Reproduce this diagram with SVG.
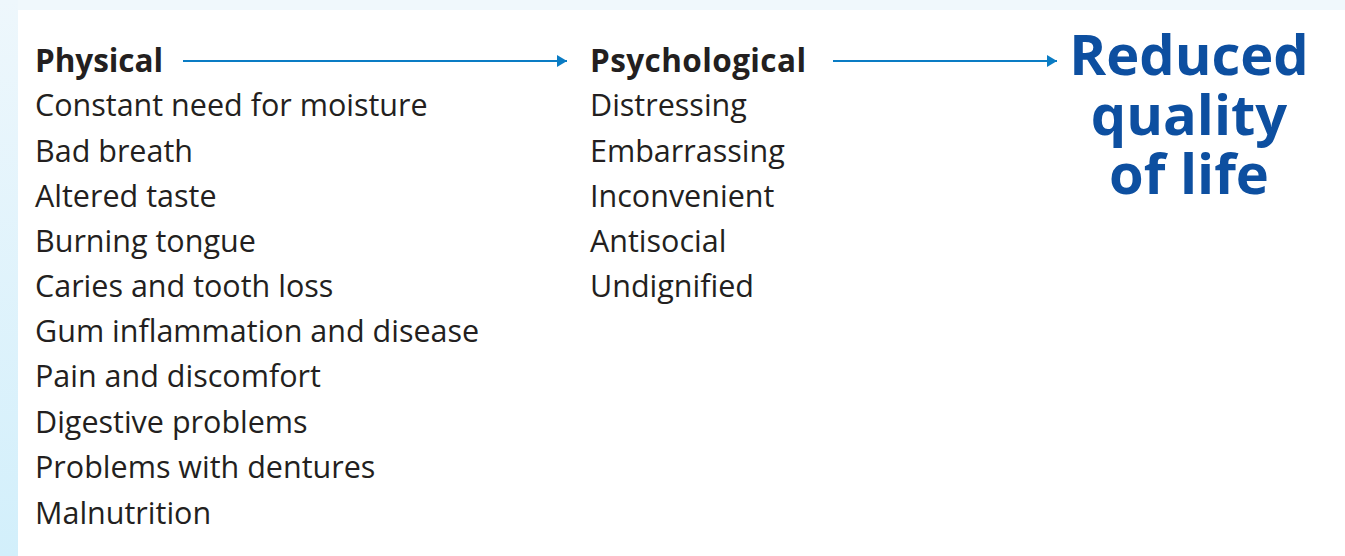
<svg xmlns="http://www.w3.org/2000/svg" width="1345" height="556" viewBox="0 0 1345 556">
<defs>
<linearGradient id="side" x1="0" y1="0" x2="0" y2="1">
<stop offset="0" stop-color="#eef7fc"/>
<stop offset="1" stop-color="#d2effb"/>
</linearGradient>
<marker id="ah" viewBox="0 0 10 12" refX="10" refY="6" markerWidth="10" markerHeight="12" markerUnits="userSpaceOnUse" orient="auto">
<path d="M0,0 L10,6 L0,12 Z" fill="#0a7cc4"/>
</marker>
<style>
.item{font-family:"Open Sans","Liberation Sans",sans-serif;font-size:30.5px;fill:#231f20}
.head{font-family:"Open Sans","Liberation Sans",sans-serif;font-size:31.5px;font-weight:bold;fill:#231f20}
.big{font-family:"Open Sans","Liberation Sans",sans-serif;font-size:56px;font-weight:bold;fill:#0d4fa0;text-anchor:middle}
.conn{stroke:#0a7cc4;stroke-width:2;fill:none}
</style>
</defs>
<rect width="1345" height="556" fill="#f0f8fc"/>
<rect x="0" y="0" width="18" height="556" fill="url(#side)"/>
<rect x="18" y="10" width="1327" height="546" fill="#ffffff"/>
<g id="physical">
<text class="head" x="35" y="72" textLength="128">Physical</text>
<text class="item" x="35" y="116">Constant need for moisture</text>
<text class="item" x="35" y="162">Bad breath</text>
<text class="item" x="35" y="207">Altered taste</text>
<text class="item" x="35" y="252">Burning tongue</text>
<text class="item" x="35" y="297">Caries and tooth loss</text>
<text class="item" x="35" y="342">Gum inflammation and disease</text>
<text class="item" x="35" y="387">Pain and discomfort</text>
<text class="item" x="35" y="433">Digestive problems</text>
<text class="item" x="35" y="478">Problems with dentures</text>
<text class="item" x="35" y="524">Malnutrition</text>
</g>
<g id="psychological">
<text class="head" x="590" y="72" textLength="216">Psychological</text>
<text class="item" x="590" y="116">Distressing</text>
<text class="item" x="590" y="162">Embarrassing</text>
<text class="item" x="590" y="207">Inconvenient</text>
<text class="item" x="590" y="252">Antisocial</text>
<text class="item" x="590" y="297">Undignified</text>
</g>
<g id="outcome">
<text class="big"><tspan x="1189" y="75">Reduced</tspan><tspan x="1189" y="135">quality</tspan><tspan x="1189" y="194">of life</tspan></text>
</g>
<g id="connectors">
<line class="conn" x1="183" y1="61" x2="567" y2="61" marker-end="url(#ah)"/>
<line class="conn" x1="833" y1="61" x2="1057" y2="61" marker-end="url(#ah)"/>
</g>
</svg>
